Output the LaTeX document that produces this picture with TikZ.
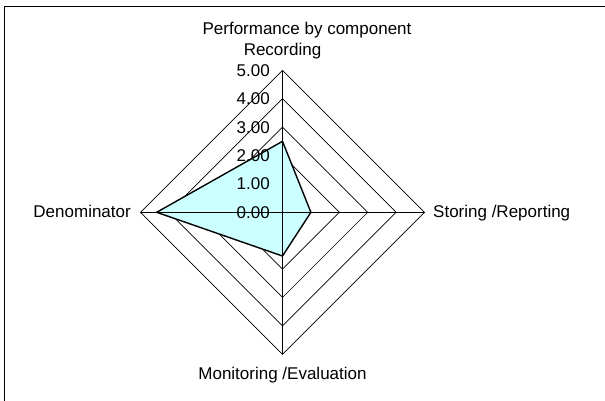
\documentclass[tikz,border=0pt]{standalone}
\usepackage{fontspec}
\setmainfont{Liberation Sans}
\usetikzlibrary{calc}
\definecolor{areafill}{HTML}{CCFFFF}
\begin{document}
\begin{tikzpicture}[x=1pt,y=1pt,
  lbl/.style={inner sep=0pt, font=\fontsize{17}{20}\selectfont},
  gridline/.style={line width=0.7pt, black},
  series/.style={line width=1.4pt, black, line join=miter}]
\useasboundingbox (0,0) rectangle (605,401);
% frame (only left and top edges visible)
\draw[line width=1.3pt] (4.5,0) -- (4.5,394.5) -- (605,394.5);
\def\u{28.4}
\coordinate (C) at (282.5,188.7);
% grid diamonds
\foreach \k in {1,...,5}{
  \draw[gridline] ($(C)+(0,\k*\u)$) -- ($(C)+(\k*\u,0)$) -- ($(C)+(0,-\k*\u)$) -- ($(C)+(-\k*\u,0)$) -- cycle;
}
% data polygon
\coordinate (dT) at ($(C)+(0,2.5*\u)$);
\coordinate (dR) at ($(C)+(1.0*\u,0)$);
\coordinate (dB) at ($(C)+(0,-1.54*\u)$);
\coordinate (dL) at ($(C)+(-4.43*\u,0)$);
\fill[areafill] (dT) -- (dR) -- (dB) -- (dL) -- cycle;
% axes
\coordinate (aT) at ($(C)+(0,5*\u)$);
\coordinate (aR) at ($(C)+(5*\u,0)$);
\coordinate (aB) at ($(C)+(0,-5*\u)$);
\coordinate (aL) at ($(C)+(-5*\u,0)$);
\draw[gridline] (C) -- (aT);
\draw[gridline] (C) -- (aR);
\draw[gridline] (C) -- (aB);
\draw[gridline] (C) -- (aL);
% series outline
\draw[series] (dT) -- (dR) -- (dB) -- (dL) -- cycle;
% tick labels
\foreach \v/\t in {0/0.00,1/1.00,2/2.00,3/3.00,4/4.00,5/5.00}{
  \node[lbl, anchor=base east] (tick\v) at (270,{188.7+28.4*\v-6}) {\t};
}
% titles and category labels
\node[lbl, anchor=base] (title) at (307,366) {Performance by component};
\node[lbl, anchor=base] (recording) at (282.5,345) {Recording};
\node[lbl, anchor=base west] (storing) at (433,183) {Storing /Reporting};
\node[lbl, anchor=base] (monitoring) at (282.5,21.7) {Monitoring /Evaluation};
\node[lbl, anchor=base east] (denominator) at (131,183) {Denominator};
\end{tikzpicture}
\end{document}
